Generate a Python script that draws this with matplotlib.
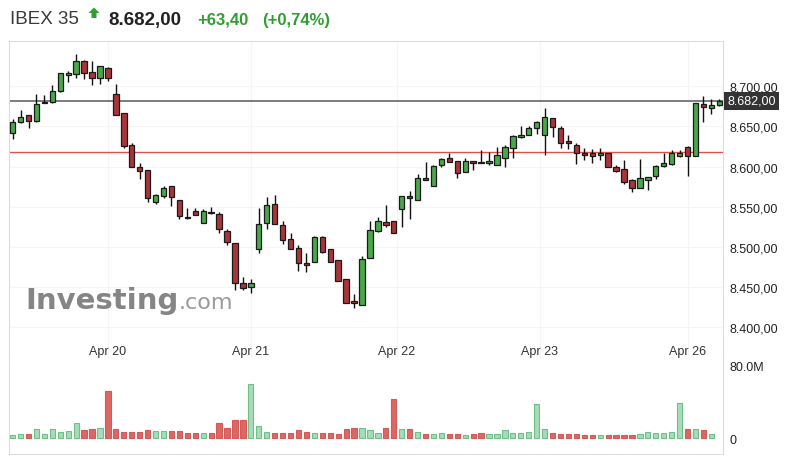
import matplotlib.pyplot as plt
import matplotlib.transforms as mtransforms
from matplotlib.patches import Polygon
import numpy as np

plt.rcParams['font.family'] = ['Liberation Sans', 'DejaVu Sans']

# 30-min candles, IBEX 35
opens = [8642, 8655, 8664, 8657, 8679, 8680, 8694, 8714, 8715, 8731,
         8718, 8710, 8723, 8691, 8667, 8627, 8599, 8596, 8556, 8564,
         8576, 8559, 8537, 8545, 8530, 8544, 8541, 8520, 8505, 8455,
         8450, 8498, 8530, 8554, 8528, 8510, 8499, 8480, 8481, 8513,
         8497, 8484, 8460, 8433, 8428, 8486, 8520, 8531, 8532, 8547,
         8563, 8559, 8586, 8576, 8602, 8611, 8607, 8593, 8607, 8606,
         8605, 8602, 8611, 8623, 8637, 8640, 8648, 8640, 8661, 8648,
         8632, 8627, 8617, 8617, 8615, 8617, 8599, 8597, 8583, 8574,
         8584, 8588, 8601, 8603, 8613, 8625, 8613, 8678, 8673, 8677]
highs = [8659, 8670, 8664, 8690, 8689, 8701, 8717, 8719, 8740, 8733,
         8731, 8725, 8724, 8703, 8667, 8630, 8605, 8596, 8566, 8576,
         8576, 8559, 8548, 8548, 8547, 8550, 8544, 8522, 8505, 8463,
         8460, 8548, 8562, 8565, 8533, 8518, 8502, 8493, 8514, 8514,
         8497, 8484, 8460, 8442, 8489, 8532, 8537, 8552, 8532, 8564,
         8570, 8591, 8606, 8602, 8611, 8617, 8607, 8611, 8607, 8621,
         8618, 8624, 8627, 8640, 8651, 8651, 8657, 8673, 8661, 8650,
         8639, 8630, 8623, 8622, 8623, 8617, 8602, 8608, 8585, 8610,
         8587, 8602, 8617, 8621, 8621, 8626, 8679, 8688, 8684, 8684]
lows = [8634, 8654, 8648, 8655, 8679, 8679, 8693, 8705, 8710, 8709,
        8702, 8703, 8706, 8664, 8623, 8599, 8585, 8556, 8553, 8561,
        8551, 8535, 8535, 8540, 8530, 8541, 8517, 8502, 8447, 8447,
        8443, 8493, 8523, 8529, 8504, 8497, 8470, 8469, 8481, 8493,
        8481, 8458, 8431, 8424, 8428, 8486, 8519, 8525, 8517, 8525,
        8535, 8559, 8584, 8576, 8599, 8606, 8586, 8593, 8596, 8604,
        8602, 8602, 8599, 8611, 8636, 8640, 8641, 8615, 8637, 8623,
        8622, 8603, 8608, 8605, 8608, 8599, 8593, 8579, 8568, 8574,
        8571, 8585, 8599, 8602, 8612, 8589, 8613, 8655, 8665, 8675]
closes = [8656, 8662, 8657, 8678, 8680, 8694, 8716, 8716, 8731, 8716,
          8710, 8725, 8710, 8664, 8626, 8599, 8595, 8561, 8565, 8574,
          8562, 8539, 8536, 8540, 8545, 8542, 8523, 8506, 8455, 8449,
          8455, 8529, 8552, 8529, 8509, 8497, 8480, 8478, 8513, 8494,
          8481, 8458, 8431, 8431, 8485, 8521, 8532, 8528, 8518, 8563,
          8561, 8586, 8584, 8601, 8610, 8606, 8592, 8607, 8605, 8604,
          8607, 8614, 8625, 8638, 8639, 8648, 8655, 8662, 8649, 8629,
          8629, 8617, 8615, 8613, 8617, 8599, 8595, 8581, 8573, 8586,
          8587, 8601, 8605, 8617, 8617, 8613, 8679, 8674, 8677, 8682]
# volume in millions (last candle has none yet)
volume = [3.3, 4.4, 4.4, 9.9, 4.4, 9.9, 7.3, 7.7, 16.9, 9.2,
          10.3, 11.4, 51.8, 10.3, 7.3, 7.3, 7.3, 8.8, 7.7, 7.7,
          7.7, 7.7, 5.9, 5.9, 5.9, 5.9, 16.9, 11.4, 19.8, 19.8,
          59.5, 14.0, 7.3, 5.9, 5.9, 5.9, 8.8, 7.3, 5.9, 5.9,
          5.9, 4.8, 10.3, 11.4, 11.4, 8.8, 5.9, 11.4, 43.3, 10.3,
          10.3, 7.3, 4.8, 4.8, 5.9, 4.8, 4.8, 3.7, 4.8, 5.9,
          4.8, 4.8, 8.8, 5.9, 5.9, 7.3, 37.5, 10.3, 5.9, 4.8,
          4.8, 4.8, 3.3, 3.3, 3.3, 3.3, 3.3, 3.3, 3.3, 4.8,
          7.3, 5.9, 5.9, 7.3, 38.9, 10.3, 10.3, 9.2, 4.8]

day_labels = ['Apr 20', 'Apr 21', 'Apr 22', 'Apr 23', 'Apr 26']
day_pos = [12, 30, 48.4, 66.4, 85]
price_ticks = [8400, 8450, 8500, 8550, 8600, 8650, 8700]
last_price = 8682.00
prev_close = 8618.60
change = 63.40
change_pct = 0.74

def es(v, d=2):
    s = f"{v:,.{d}f}"
    return s.replace(',', 'X').replace('.', ',').replace('X', '.')

o = np.array(opens, float)
h = np.array(highs, float)
l = np.array(lows, float)
c = np.array(closes, float)
x = np.arange(len(o))
up = c >= o

fig = plt.figure(figsize=(7.89, 4.60), dpi=100)
ax = fig.add_axes([0.012, 0.2174, 0.9043, 0.6913])
axv = fig.add_axes([0.012, 0.0109, 0.9043, 0.2065], sharex=ax)

green = '#4aa84a'
red = '#a83539'
ax.vlines(x, l, h, color='#111', lw=1.0, zorder=3)
body_lo = np.minimum(o, c)
body_h = np.maximum(np.abs(c - o), 1.2)
ax.bar(x, body_h, bottom=body_lo, width=0.68,
       color=np.where(up, green, red), edgecolor='#1a1a1a', linewidth=0.9, zorder=4)

ax.axhline(last_price, color='#666', lw=1.2, zorder=2)
ax.axhline(prev_close, color='#d9534f', lw=1.0, zorder=2)

ax.set_xlim(-0.4, 89.46)
ax.set_ylim(8360.8, 8756.3)
ax.yaxis.tick_right()
ax.set_yticks(price_ticks)
ax.set_yticklabels([es(v) for v in price_ticks])
ax.tick_params(axis='y', length=0, pad=4.5, labelsize=9, labelcolor='#222')
ax.set_xticks(day_pos)
ax.tick_params(axis='x', length=0, labelbottom=False)
ax.grid(True, color='#f5f5f5', lw=0.8, zorder=0)
for s in ['top', 'left', 'right']:
    ax.spines[s].set_color('#dcdcdc')
ax.spines['bottom'].set_visible(False)

tr = mtransforms.blended_transform_factory(ax.transData, ax.transAxes)
for p, lab in zip(day_pos, day_labels):
    ax.text(p, 0.025, lab, transform=tr, ha='center', va='center',
            fontsize=9, color='#333')

tr2 = mtransforms.blended_transform_factory(ax.transAxes, ax.transData)
ax.annotate(es(last_price), xy=(1.0, last_price), xycoords=tr2,
            xytext=(3, 0), textcoords='offset points', ha='left', va='center',
            fontsize=9, color='white', annotation_clip=False,
            bbox=dict(boxstyle='square,pad=0.25', fc='#333333', ec='none'))

# volume
vx = np.arange(len(volume))
vup = up[:len(volume)]
axv.bar(vx, volume, width=0.66, color=np.where(vup, '#a8dbb8', '#dc6764'),
        edgecolor=np.where(vup, '#6fbf8b', '#d45a57'), linewidth=0.8)
axv.set_ylim(-17.3, 87.4)
axv.yaxis.tick_right()
axv.set_yticks([0, 80])
axv.set_yticklabels(['0', '80.0M'])
axv.tick_params(axis='y', length=0, pad=5, labelsize=9, labelcolor='#222')
axv.tick_params(axis='x', length=0, labelbottom=False)
for s in ['left', 'right', 'bottom']:
    axv.spines[s].set_color('#dcdcdc')
axv.spines['top'].set_visible(False)

# header
W, H = 789, 460
fig.text(10 / W, 1 - 20 / H, 'IBEX 35', fontsize=13.5, color='#3a3a3a', va='center')
arrow = [(94, 8.5), (99.5, 14), (96.5, 14), (96.5, 19), (91.5, 19), (91.5, 14), (88.5, 14)]
fig.patches.append(Polygon([(px / W, 1 - py / H) for px, py in arrow], closed=True,
                           transform=fig.transFigure, fc='#2e9e2e', ec='none'))
fig.text(108 / W, 1 - 20 / H, es(last_price), fontsize=13.5, fontweight='bold',
         color='#222', va='center')
fig.text(197 / W, 1 - 20 / H, '+' + es(change), fontsize=12, fontweight='bold',
         color='#2e9e2e', va='center')
fig.text(262 / W, 1 - 20 / H, '(+' + es(change_pct) + '%)', fontsize=12,
         fontweight='bold', color='#2e9e2e', va='center')

# watermark
wm = fig.text(25 / W, 1 - 309 / H, 'Investing', fontsize=21, fontweight='bold',
              family='DejaVu Sans', color='#858585', va='baseline', zorder=0)
fig.canvas.draw()
bb = wm.get_window_extent()
fig.text(bb.x1 / W, 1 - 309 / H, '.com', fontsize=16, family='DejaVu Sans',
         color='#9a9a9a', va='baseline', zorder=0)

fig.savefig('out.png', dpi=100)
